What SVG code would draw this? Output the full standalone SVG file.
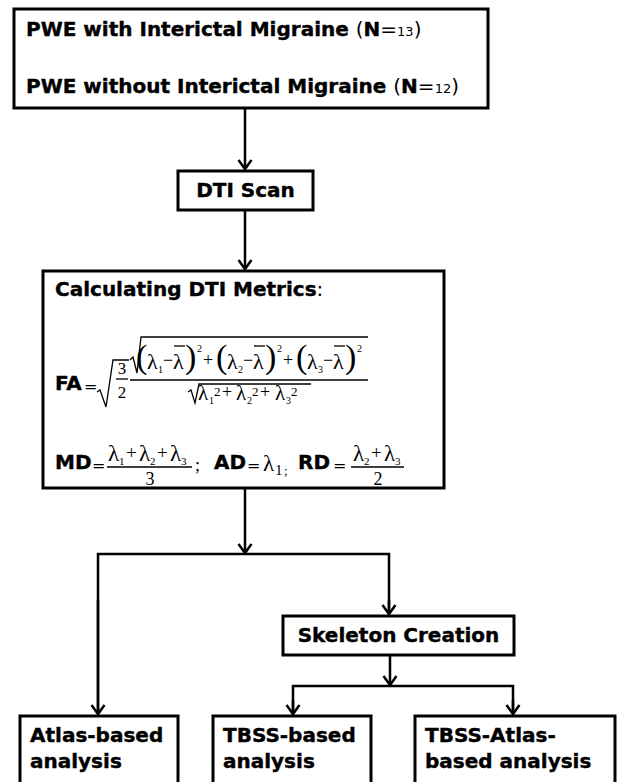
<svg xmlns="http://www.w3.org/2000/svg" width="620" height="782" viewBox="0 0 620 782">
<defs>
<style>
.b{font-family:"DejaVu Sans","Liberation Sans",sans-serif;font-weight:bold;font-size:20px;fill:#000;stroke:#000;stroke-width:0.4}
.r{font-family:"DejaVu Sans","Liberation Sans",sans-serif;font-weight:normal;fill:#000;stroke:none}
.m{font-family:"Liberation Serif","DejaVu Serif",serif;fill:#000}
.box{fill:#fff;stroke:#000;stroke-width:3}
.ln{fill:none;stroke:#000;stroke-width:2.5}
.thin{fill:none;stroke:#000;stroke-width:1.3}
</style>
<marker id="arr" markerUnits="userSpaceOnUse" viewBox="-12 -9 14 18" markerWidth="14" markerHeight="18" refX="0" refY="0" orient="auto" overflow="visible">
<path d="M-9,-6.5 L0,0 L-9,6.5" fill="none" stroke="#000" stroke-width="2.5"/>
</marker>
</defs>
<rect width="620" height="782" fill="#fff"/>

<g id="connectors">
<line class="ln" x1="245" y1="108" x2="245" y2="169" marker-end="url(#arr)"/>
<line class="ln" x1="245" y1="210" x2="245" y2="269" marker-end="url(#arr)"/>
<line class="ln" x1="245" y1="488" x2="245" y2="553" marker-end="url(#arr)"/>
<polyline class="ln" points="98,714 98,554 389,554 389,614"/>
<line class="ln" x1="98" y1="600" x2="98" y2="714" marker-end="url(#arr)"/>
<line class="ln" x1="389" y1="600" x2="389" y2="614" marker-end="url(#arr)"/>
<line class="ln" x1="390" y1="655" x2="390" y2="685" marker-end="url(#arr)"/>
<polyline class="ln" points="293,714 293,686 513,686 513,714"/>
<line class="ln" x1="293" y1="700" x2="293" y2="714" marker-end="url(#arr)"/>
<line class="ln" x1="513" y1="700" x2="513" y2="714" marker-end="url(#arr)"/>
</g>

<g id="groups">
<rect class="box" x="14" y="9" width="474" height="99"/>
<text class="b" x="26" y="36">PWE with Interictal Migraine <tspan class="r">(</tspan>N<tspan class="r">=</tspan><tspan class="r" font-size="13">13</tspan><tspan class="r">)</tspan></text>
<text class="b" x="26" y="93">PWE without Interictal Migraine <tspan class="r">(</tspan>N<tspan class="r">=</tspan><tspan class="r" font-size="13">12</tspan><tspan class="r">)</tspan></text>
</g>

<g id="dti-scan">
<rect class="box" x="178" y="171" width="135" height="39"/>
<text class="b" x="245.5" y="197" text-anchor="middle">DTI Scan</text>
</g>

<g id="metrics">
<rect class="box" x="43" y="271" width="401" height="217"/>
<text class="b" x="55" y="296">Calculating DTI Metrics<tspan class="r">:</tspan></text>

<!-- FA -->
<text class="b" x="55" y="390">FA</text>
<text class="r" x="84" y="392" font-size="16">=</text>
<path class="thin" d="M97,392 L100,390 L106,407 L113,360 L129,360"/>
<text class="m" x="122" y="374" font-size="17" text-anchor="middle">3</text>
<line class="thin" x1="116" y1="379" x2="128" y2="379" stroke-width="1"/>
<text class="m" x="122" y="398" font-size="17" text-anchor="middle">2</text>

<path class="thin" d="M130,360 L133,357 L137,373 L141,337 L368,337"/>
<g id="num">
<text class="m" x="136" y="368" font-size="34">(</text>
<text class="m" x="147" y="369" font-size="22">λ</text>
<text class="m" x="158" y="373" font-size="10">1</text>
<text class="m" x="163" y="366" font-size="18">−</text>
<text class="m" x="173" y="369" font-size="22">λ</text>
<line class="thin" x1="174" y1="346" x2="185" y2="346"/>
<text class="m" x="185" y="368" font-size="34">)</text>
<text class="m" x="197" y="352" font-size="10">2</text>
<text class="m" x="203" y="366" font-size="18">+</text>

<text class="m" x="216" y="368" font-size="34">(</text>
<text class="m" x="227" y="369" font-size="22">λ</text>
<text class="m" x="238" y="373" font-size="10">2</text>
<text class="m" x="243" y="366" font-size="18">−</text>
<text class="m" x="253" y="369" font-size="22">λ</text>
<line class="thin" x1="254" y1="346" x2="265" y2="346"/>
<text class="m" x="265" y="368" font-size="34">)</text>
<text class="m" x="277" y="352" font-size="10">2</text>
<text class="m" x="283" y="366" font-size="18">+</text>

<text class="m" x="296" y="368" font-size="34">(</text>
<text class="m" x="307" y="369" font-size="22">λ</text>
<text class="m" x="318" y="373" font-size="10">3</text>
<text class="m" x="323" y="366" font-size="18">−</text>
<text class="m" x="333" y="369" font-size="22">λ</text>
<line class="thin" x1="334" y1="346" x2="345" y2="346"/>
<text class="m" x="345" y="368" font-size="34">)</text>
<text class="m" x="357" y="352" font-size="10">2</text>
</g>
<line class="thin" x1="130" y1="380" x2="368" y2="380"/>
<path class="thin" d="M188,392 L191,390 L195,403 L199,384 L311,384"/>
<text class="m" x="198" y="400" font-size="21">λ</text>
<text class="m" x="209" y="404" font-size="10">1</text>
<text class="m" x="214" y="396" font-size="13">2</text>
<text class="m" x="222" y="398" font-size="18">+</text>
<text class="m" x="236" y="400" font-size="21">λ</text>
<text class="m" x="247" y="404" font-size="10">2</text>
<text class="m" x="252" y="396" font-size="13">2</text>
<text class="m" x="260" y="398" font-size="18">+</text>
<text class="m" x="275" y="400" font-size="21">λ</text>
<text class="m" x="286" y="404" font-size="10">3</text>
<text class="m" x="291" y="396" font-size="13">2</text>

<!-- MD -->
<text class="b" x="55" y="469">MD</text>
<text class="r" x="92" y="471" font-size="16">=</text>
<text class="m" x="108" y="461" font-size="23">λ</text>
<text class="m" x="119" y="465" font-size="11">1</text>
<text class="m" x="126" y="459" font-size="19">+</text>
<text class="m" x="139" y="461" font-size="23">λ</text>
<text class="m" x="150" y="465" font-size="11">2</text>
<text class="m" x="157" y="459" font-size="19">+</text>
<text class="m" x="170" y="461" font-size="23">λ</text>
<text class="m" x="181" y="465" font-size="11">3</text>
<line class="thin" x1="107" y1="467" x2="192" y2="467"/>
<text class="m" x="150" y="485" font-size="18" text-anchor="middle">3</text>
<text class="m" x="195" y="471" font-size="18">;</text>

<text class="b" x="214" y="469">AD</text>
<text class="r" x="247" y="471" font-size="16">=</text>
<text class="m" x="263" y="471" font-size="23">λ</text>
<text class="m" x="275" y="475" font-size="15">1</text>
<text class="m" x="284" y="475" font-size="13">;</text>

<text class="b" x="298" y="469">RD</text>
<text class="r" x="333" y="471" font-size="16">=</text>
<text class="m" x="353" y="461" font-size="23">λ</text>
<text class="m" x="364" y="465" font-size="11">2</text>
<text class="m" x="371" y="459" font-size="19">+</text>
<text class="m" x="384" y="461" font-size="23">λ</text>
<text class="m" x="395" y="465" font-size="11">3</text>
<line class="thin" x1="351" y1="467" x2="404" y2="467"/>
<text class="m" x="378" y="485" font-size="18" text-anchor="middle">2</text>
</g>

<g id="skeleton">
<rect class="box" x="283" y="616" width="231" height="39"/>
<text class="b" x="398.5" y="642" text-anchor="middle">Skeleton Creation</text>
</g>

<g id="atlas">
<rect class="box" x="20" y="716" width="158" height="90"/>
<text class="b" x="30" y="742">Atlas-based</text>
<text class="b" x="30" y="768">analysis</text>
</g>

<g id="tbss">
<rect class="box" x="213" y="716" width="158" height="90"/>
<text class="b" x="223" y="742">TBSS-based</text>
<text class="b" x="223" y="768">analysis</text>
</g>

<g id="tbss-atlas">
<rect class="box" x="415" y="716" width="200" height="90"/>
<text class="b" x="425" y="742">TBSS-Atlas-</text>
<text class="b" x="425" y="768">based analysis</text>
</g>
</svg>
